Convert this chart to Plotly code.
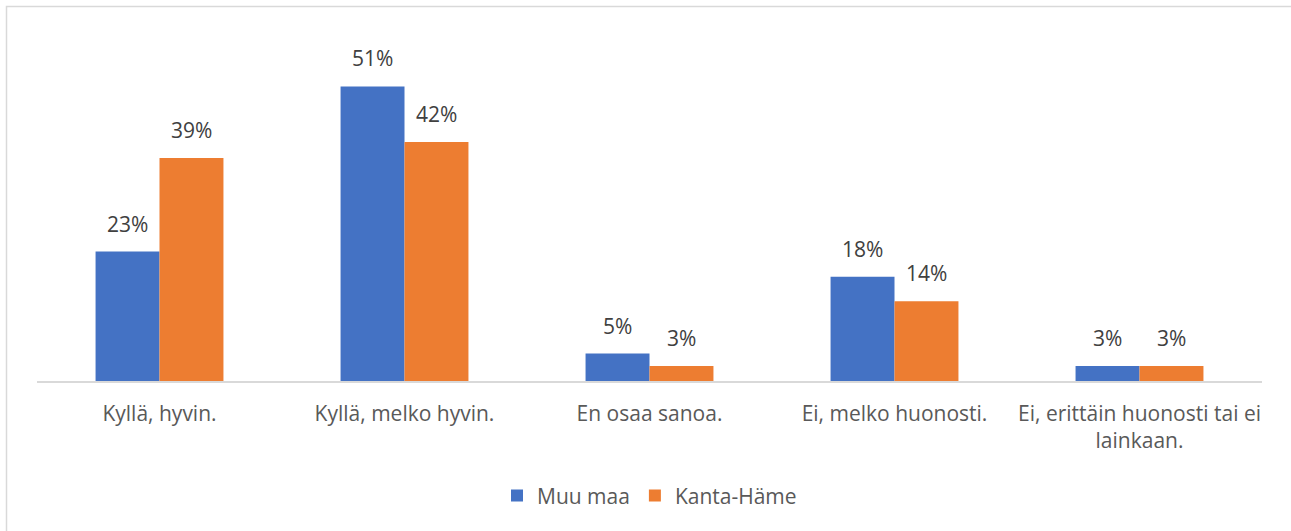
import plotly.graph_objects as go

categories = ["Kyllä, hyvin.", "Kyllä, melko hyvin.", "En osaa sanoa.",
              "Ei, melko huonosti.", "Ei, erittäin huonosti tai ei<br>lainkaan."]
muu_maa = [22.6, 51.4, 4.8, 18.2, 2.6]
kanta_hame = [38.9, 41.7, 2.6, 13.9, 2.6]
series_names = ["Muu maa", "Kanta-Häme"]
colors = ["#4472C4", "#ED7D31"]

W, H = 1291, 531
ml, mr, mt, mb = 37, 29, 20, 150
pw, ph = W - ml - mr, H - mt - mb
FONT = "Open Sans"

fig = go.Figure()
annotations = []
for i, (name, vals, col) in enumerate(zip(series_names, [muu_maa, kanta_hame], colors)):
    fig.add_trace(go.Bar(
        x=categories, y=vals, name=name, marker=dict(color=col, line=dict(width=0)),
    ))
    shift = -32 if i == 0 else 32
    for c, v in zip(categories, vals):
        annotations.append(dict(
            x=c, y=v, xref="x", yref="y", text=f"{v:.0f}%", showarrow=False,
            xshift=shift, yshift=12, yanchor="bottom", xanchor="center",
            font=dict(family=FONT, size=21, color="#404040"),
        ))

# border
fig.add_shape(type="rect", xref="paper", yref="paper",
              x0=(6.5 - ml) / pw, x1=1.2, y0=-1.0, y1=1 + (mt - 6.5) / ph,
              line=dict(color="#D9D9D9", width=1.5), fillcolor="rgba(0,0,0,0)", layer="below")

fig.update_layout(
    width=W, height=H,
    margin=dict(l=ml, r=mr, t=mt, b=mb),
    paper_bgcolor="white", plot_bgcolor="white",
    barmode="group", bargap=0.478, bargroupgap=0,
    font=dict(family=FONT, size=21, color="#595959"),
    annotations=annotations,
    showlegend=True,
    legend=dict(orientation="h", x=0.5, xanchor="center", y=-0.318, yanchor="middle",
                font=dict(family=FONT, size=21, color="#595959"),
                itemwidth=30, traceorder="normal"),
    xaxis=dict(showline=True, linecolor="#D9D9D9", linewidth=1.5, showgrid=False,
               ticks="outside", ticklen=13, tickcolor="rgba(0,0,0,0)",
               tickfont=dict(family=FONT, size=21, color="#595959")),
    yaxis=dict(range=[0, 63], visible=False, showgrid=False, zeroline=False),
)

fig.write_html("out.html", config={"displayModeBar": False},
               post_script="document.body.style.margin='0';")
